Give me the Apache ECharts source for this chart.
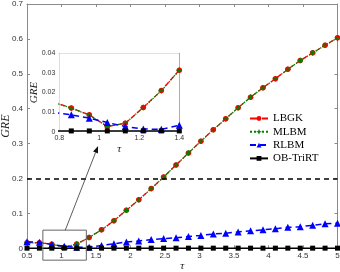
<!DOCTYPE html>
<html>
<head>
<meta charset="utf-8">
<script src="https://cdn.jsdelivr.net/npm/echarts@6/dist/echarts.min.js"></script>
<style>html,body{margin:0;padding:0;background:#fff}#c{width:340px;height:272px}</style>
</head>
<body>
<div id="c"></div>
<script>
// ---- data ----
const tau = [0.50,0.68,0.86,1.04,1.22,1.40,1.58,1.76,1.94,2.12,2.30,2.48,2.66,2.84,3.02,3.20,3.38,3.56,3.74,3.92,4.10,4.28,4.46,4.64,4.82,5.00];
const lbgk = [0.016,0.016,0.0118,0.003,0.0122,0.031,0.053,0.079,0.109,0.139,0.171,0.204,0.239,0.273,0.307,0.340,0.371,0.403,0.433,0.460,0.486,0.513,0.538,0.560,0.582,0.603];
const mlbm = [0.0158,0.0158,0.0117,0.0031,0.0121,0.0309,0.0528,0.0789,0.1088,0.1389,0.1708,0.2038,0.2388,0.2728,0.3068,0.3398,0.3708,0.4028,0.4328,0.4598,0.4858,0.5128,0.5378,0.5598,0.5818,0.6028];
const rlbm = [0.019,0.017,0.011,0.006,0.003,0.003,0.008,0.013,0.018,0.021,0.025,0.028,0.030,0.034,0.037,0.041,0.043,0.047,0.050,0.053,0.056,0.060,0.062,0.066,0.070,0.072];
const obtrirt = [0.0004,0.0004,0.0004,0.0004,0.0004,0.0004,0.0004,0.0004,0.0004,0.0004,0.0004,0.0004,0.0004,0.0004,0.0004,0.0004,0.0004,0.0004,0.0004,0.0004,0.0004,0.0004,0.0004,0.0004,0.0004,0.0004];
const refLevel = 0.2;

// inset (zoomed) data
const tauZoom = [0.77,0.86,0.95,1.04,1.13,1.22,1.31,1.40];
const lbgkZoom = [0.0152,0.0121,0.0086,0.0026,0.0043,0.0124,0.0210,0.0314];
const mlbmZoom = [0.0150,0.0120,0.0085,0.0027,0.0043,0.0123,0.0209,0.0313];
const rlbmZoom = [0.0098,0.0086,0.0069,0.0047,0.0026,0.0014,0.0012,0.0033];
const obZoom = [0.0004,0.0004,0.0004,0.0004,0.0004,0.0004,0.0004,0.0004];

const seriesNames = ['LBGK','MLBM','RLBM','OB-TriRT'];

// ---- chart ----
const chart = echarts.init(document.getElementById('c'), null, {renderer:'canvas'});
const serif = 'Liberation Serif';
const sans = 'Liberation Sans';
const axisColor = '#8a8a8a';
const labelColor = '#333';
const plusPath = 'path://M0,4H10V6H0Z M4,0H6V10H4Z';

function pairs(xs, ys){ return xs.map((x,i)=>[x, ys[i]]); }

function xAx(grid, min, max, interval, pos, showLabel, fs, tickLen, name, nameGap, nfs){
  return {
    gridIndex: grid, type:'value', min:min, max:max, interval:interval, position:pos,
    axisLine:{show:true, onZero:false, lineStyle:{color:axisColor, width:1}},
    axisTick:{show:true, inside:true, length:tickLen, lineStyle:{color:axisColor}},
    axisLabel:{show:showLabel, fontFamily:sans, fontSize:fs, color:labelColor, margin:3},
    splitLine:{show:false},
    name: name || '', nameLocation:'middle', nameGap: nameGap || 0, nameMoveOverlap:false,
    nameTextStyle:{fontFamily:serif, fontStyle:'italic', fontSize:nfs || 11, color:'#222'}
  };
}
function yAx(grid, min, max, interval, pos, showLabel, fs, tickLen, name, nameGap, nfs){
  return {
    gridIndex: grid, type:'value', min:min, max:max, interval:interval, position:pos,
    axisLine:{show:true, onZero:false, lineStyle:{color:axisColor, width:1}},
    axisTick:{show:true, inside:true, length:tickLen, lineStyle:{color:axisColor}},
    axisLabel:{show:showLabel, fontFamily:sans, fontSize:fs, color:labelColor, margin:4},
    splitLine:{show:false},
    name: name || '', nameLocation:'middle', nameGap: nameGap || 0, nameRotate:90, nameMoveOverlap:false,
    nameTextStyle:{fontFamily:serif, fontStyle:'italic', fontSize:nfs || 11, color:'#222'}
  };
}

function mkSeries(xi, yi, d1, d2, d3, d4, z){
  return [
    {name:seriesNames[0], type:'line', xAxisIndex:xi, yAxisIndex:yi, data:d1, z:z,
     symbol:'circle', symbolSize:5.5, itemStyle:{color:'#ff0000'},
     lineStyle:{color:'#ff0000', type:'dashed', width:1.3}},
    {name:seriesNames[1], type:'line', xAxisIndex:xi, yAxisIndex:yi, data:d2, z:z+0.1,
     symbol:plusPath, symbolSize:5.5, itemStyle:{color:'#008000'},
     lineStyle:{color:'#008000', type:'dotted', width:1.3}},
    {name:seriesNames[2], type:'line', xAxisIndex:xi, yAxisIndex:yi, data:d3, z:z+0.2,
     symbol:'triangle', symbolSize:7, itemStyle:{color:'#0000ff'},
     lineStyle:{color:'#0000ff', type:[6,4], width:1.5}},
    {name:seriesNames[3], type:'line', xAxisIndex:xi, yAxisIndex:yi, data:d4, z:z+0.3,
     symbol:'rect', symbolSize:5, itemStyle:{color:'#000'},
     lineStyle:{color:'#000', type:'solid', width:1.5}}
  ];
}

const mainSeries = mkSeries(0, 0, pairs(tau,lbgk), pairs(tau,mlbm), pairs(tau,rlbm), pairs(tau,obtrirt), 3);
mainSeries[0].markLine = {
  silent:true, symbol:'none', label:{show:false}, animation:false,
  lineStyle:{color:'#000', type:[5,4], width:1.5},
  data:[{yAxis:refLevel}]
};
const insetSeries = mkSeries(2, 2, pairs(tauZoom,lbgkZoom), pairs(tauZoom,mlbmZoom), pairs(tauZoom,rlbmZoom), pairs(tauZoom,obZoom), 10);

const option = {
  animation:false,
  backgroundColor:'#fff',
  grid:[
    {left:27, right:2.5, top:4, bottom:23.7, containLabel:false, outerBoundsMode:'none'},
    {left:59.3, top:53.3, width:120, height:78.4, show:true, backgroundColor:'#fff', borderWidth:0, z:6, containLabel:false, outerBoundsMode:'none'}
  ],
  xAxis:[
    xAx(0, 0.5, 5, 0.5, 'bottom', true, 8, 3, 'τ', 12, 11),
    xAx(0, 0.5, 5, 0.5, 'top', false, 8, 3),
    xAx(1, 0.8, 1.4, 0.2, 'bottom', true, 7, 2, 'τ', 12, 11),
    xAx(1, 0.8, 1.4, 0.2, 'top', false, 7, 2)
  ],
  yAxis:[
    yAx(0, 0, 0.7, 0.1, 'left', true, 8, 3, 'GRE', 15, 12),
    yAx(0, 0, 0.7, 0.1, 'right', false, 8, 3),
    yAx(1, 0, 0.04, 0.01, 'left', true, 7, 2, 'GRE', 20, 11),
    yAx(1, 0, 0.04, 0.01, 'right', false, 7, 2)
  ],
  legend:{
    orient:'vertical', left:249, top:113, padding:0, itemWidth:18, itemHeight:6, itemGap:2.3,
    data:seriesNames,
    textStyle:{fontFamily:serif, fontSize:11, color:'#000'}
  },
  series: mainSeries.concat(insetSeries)
};
chart.setOption(option);

// annotation box and arrow, placed through the main grid's scales
const p = (x,y)=>chart.convertToPixel({gridIndex:0}, [x,y]);
const b0 = p(0.73, 0.052), b1 = p(1.36, -0.034);
const a0 = p(1.055, 0.052), a1 = p(1.53, 0.293);
const dx = a1[0]-a0[0], dy = a1[1]-a0[1], L = Math.hypot(dx,dy);
const ux = dx/L, uy = dy/L, hl = 7, hw = 2.6;
const base = [a1[0]-ux*hl, a1[1]-uy*hl];
chart.setOption({
  graphic:[
    {type:'rect', z:20, shape:{x:Math.min(b0[0],b1[0]), y:Math.min(b0[1],b1[1]), width:Math.abs(b1[0]-b0[0]), height:Math.abs(b1[1]-b0[1])},
     style:{fill:'none', stroke:'#666', lineWidth:1}},
    {type:'line', z:20, shape:{x1:a0[0], y1:a0[1], x2:base[0], y2:base[1]}, style:{stroke:'#333', lineWidth:0.8}},
    {type:'polygon', z:20, shape:{points:[a1, [base[0]-uy*hw, base[1]+ux*hw], [base[0]+uy*hw, base[1]-ux*hw]]}, style:{fill:'#111'}}
  ]
});
</script>
</body>
</html>
